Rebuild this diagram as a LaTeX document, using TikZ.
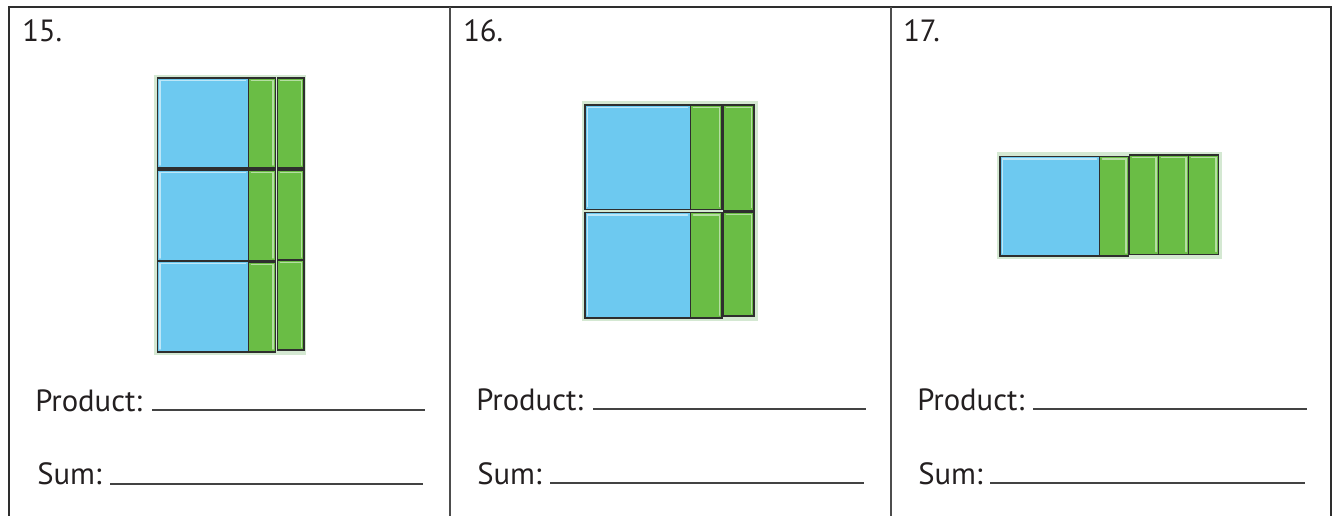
\documentclass[tikz,border=0pt]{standalone}
\usepackage{fontspec}
\setmainfont{PT Sans}
\definecolor{sqblue}{HTML}{6DC9F0}
\definecolor{bargreen}{HTML}{6ABD45}
\definecolor{backg}{HTML}{D4E8D2}
\definecolor{edge}{HTML}{2E2E2E}
\definecolor{ink}{HTML}{231F20}
\newcommand{\tileq}[5]{%
  \fill[#1] (#2,#3) rectangle (#4,#5);
  \draw[#1hi, line width=1.2pt, line cap=round] (#2+2.5,#5-3) -- (#2+2.5,#3+2.5) -- (#4-3,#3+2.5);
  \draw[edge, line width=0.9pt] (#2,#3) rectangle (#4,#5);}
\newcommand{\tilebar}[5]{%
  \fill[#1] (#2,#3) rectangle (#4,#5);
  \draw[#1hi, line width=1.2pt, line cap=round] (#2+3,#3+2.5) -- (#4-2.5,#3+2.5) -- (#4-2.5,#5-3);
  \draw[edge, line width=0.9pt] (#2,#3) rectangle (#4,#5);}
\colorlet{sqbluehi}{sqblue!45!white}
\colorlet{bargreenhi}{bargreen!50!white}
\begin{document}
\begin{tikzpicture}[x=0.75pt,y=-0.75pt,
  lab/.style={anchor=base west, inner sep=0pt, text=ink, font=\fontsize{23}{28}\selectfont},
  frame/.style={draw=edge, line width=1.9pt},
  divider/.style={draw=edge!85, line width=1.1pt},
  answer/.style={draw=edge!90, line width=1.1pt}]
\useasboundingbox (0,0) rectangle (1337,516);
\fill[white] (0,0) rectangle (1337,516);
% frame
\draw[frame] (9,516) -- (9,7) -- (1331,7) -- (1331,516);
\draw[divider] (450,7) -- (450,516);
\draw[divider] (891,7) -- (891,516);
% numbers
\node[lab] (n15) at (22,42) {15.};
\node[lab] (n16) at (463,42) {16.};
\node[lab] (n17) at (903,42) {17.};
% product / sum
\node[lab] (p15) at (35,411) {Product:};
\node[lab] (s15) at (37,484) {Sum:};
\node[lab] (p16) at (476,410) {Product:};
\node[lab] (s16) at (477,484) {Sum:};
\node[lab] (p17) at (917,410) {Product:};
\node[lab] (s17) at (918,484) {Sum:};
\draw[answer] (152,410) -- (425,410);
\draw[answer] (110,484) -- (423,484);
\draw[answer] (593,409) -- (866,409);
\draw[answer] (550,483) -- (864,483);
\draw[answer] (1033,409) -- (1307,409);
\draw[answer] (990,483) -- (1305,483);
% panel 15
\fill[backg] (154,75) rectangle (306,355);
\tileq{sqblue}{157.5}{78}{248.5}{168}
\tileq{sqblue}{157.5}{170}{248.5}{261}
\tileq{sqblue}{157.5}{261}{248.5}{352}
\tilebar{bargreen}{248.5}{78}{275.5}{168}
\tilebar{bargreen}{277.5}{78}{304}{168}
\tilebar{bargreen}{248.5}{170}{275.5}{261}
\tilebar{bargreen}{277.5}{170}{304}{260}
\tilebar{bargreen}{248.5}{262}{275.5}{352}
\tilebar{bargreen}{277.5}{260}{304}{350}
% panel 16
\fill[backg] (582,101) rectangle (757.5,321.5);
\tileq{sqblue}{585}{105}{690.5}{209.5}
\tileq{sqblue}{585}{212.5}{690.5}{318}
\tilebar{bargreen}{690.5}{105}{722}{209.5}
\tilebar{bargreen}{723.5}{105}{754}{210.5}
\tilebar{bargreen}{690.5}{212.5}{722}{318}
\tilebar{bargreen}{723.5}{212}{754}{316}
% panel 17
\fill[backg] (997,152.5) rectangle (1222,259.5);
\tileq{sqblue}{1000}{156.5}{1099.5}{256}
\tilebar{bargreen}{1099.5}{156.5}{1128.5}{256}
\tilebar{bargreen}{1129.5}{155}{1158.5}{254.5}
\tilebar{bargreen}{1158.5}{155}{1188.5}{254.5}
\tilebar{bargreen}{1188.5}{155}{1218.5}{254.5}
\end{tikzpicture}
\end{document}
